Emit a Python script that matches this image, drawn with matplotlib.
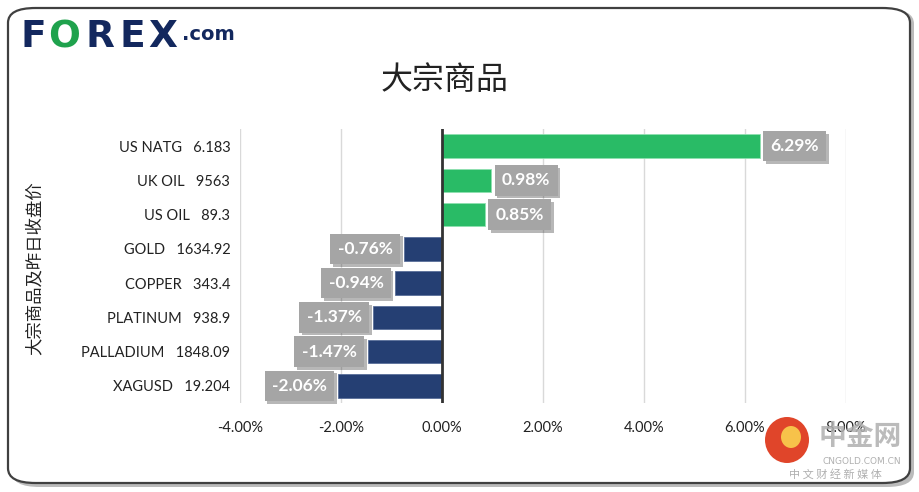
import matplotlib
matplotlib.use("Agg")
import matplotlib.pyplot as plt
import matplotlib.patheffects as pe
from matplotlib.patches import FancyBboxPatch, Ellipse

names = ["US NATG", "UK OIL", "US OIL", "GOLD", "COPPER", "PLATINUM", "PALLADIUM", "XAGUSD"]
prices = ["6.183", "9563", "89.3", "1634.92", "343.4", "938.9", "1848.09", "19.204"]
changes = [6.29, 0.98, 0.85, -0.76, -0.94, -1.37, -1.47, -2.06]
xticks = [-4, -2, 0, 2, 4, 6, 8]

title = "大宗商品"
ylabel = "大宗商品及昨日收盘价"

GREEN = "#29BB66"
NAVY = "#253F73"
LAB = "Lato"
CJK = ["Noto Sans CJK SC", "DejaVu Sans"]

fig = plt.figure(figsize=(9.2, 4.92), dpi=100)
W, H = 920, 492

# frame with shadow
shadow = FancyBboxPatch((12 / W, 5 / H), 902 / W, 478 / H,
                        boxstyle="round,pad=0,rounding_size=0.03",
                        transform=fig.transFigure, facecolor="#bbbbbb",
                        edgecolor="none", zorder=-3)
fig.patches.append(shadow)
frame = FancyBboxPatch((8 / W, 9 / H), 902 / W, 475 / H,
                       boxstyle="round,pad=0,rounding_size=0.03",
                       transform=fig.transFigure, facecolor="white",
                       edgecolor="#404040", linewidth=1.6, zorder=-2)
fig.patches.append(frame)

ax = fig.add_axes([240 / W, 1 - 403 / H, 606 / W, 274 / H])
ax.set_facecolor("none")
n = len(names)
ypos = list(range(n))
colors = [GREEN if c >= 0 else NAVY for c in changes]
ax.barh(ypos, changes, height=0.68, color=colors, zorder=3,
        edgecolor=["#8fe0b0" if c >= 0 else "#5a6f9a" for c in changes], linewidth=0.6)
ax.set_ylim(n - 0.5, -0.5)
ax.set_xlim(-4, 8)
ax.set_xticks(xticks)
ax.set_xticklabels([f"{v:.2f}%" for v in xticks], fontsize=10.5, family=LAB, color="#222222")
ax.set_yticks(ypos)
ax.set_yticklabels([f"{a}   {b}" for a, b in zip(names, prices)], fontsize=10.5,
                   family=LAB, color="#222222")
ax.tick_params(axis="both", length=0)
ax.tick_params(axis="y", pad=7)
ax.tick_params(axis="x", pad=13)
for s in ax.spines.values():
    s.set_visible(False)
ax.grid(axis="x", color="#d9d9d9", linewidth=1, zorder=0)
ax.axvline(0, color="#333333", linewidth=2, zorder=4)

for y, c in zip(ypos, changes):
    if c >= 0:
        off, ha = 7.5, "left"
    else:
        off, ha = -8, "right"
    t = ax.annotate(f"{c:.2f}%", xy=(c, y), xytext=(off, 0), textcoords="offset points",
                    ha=ha, va="center", fontsize=12.5, fontweight="bold", family=LAB,
                    color="white", zorder=6,
                    bbox=dict(boxstyle="square,pad=0.42", facecolor="#a5a5a5", edgecolor="none"))
    t.get_bbox_patch().set_path_effects([pe.SimplePatchShadow(offset=(2, -2), alpha=0.35), pe.Normal()])

fig.text(445 / W, 1 - 80 / H, title, ha="center", va="center", fontsize=23,
         family=CJK, color="#222222")
fig.text(35 / W, 1 - 268 / H, ylabel, ha="center", va="center", rotation=90,
         fontsize=12.5, family=CJK, color="#222222")

# FOREX logo
for ch, x0, col in [("F", 21, "#13285e"), ("O", 48, "#1fa24d"), ("R", 86, "#13285e"),
                    ("E", 120, "#13285e"), ("X", 148, "#13285e")]:
    fig.text(x0 / W, 1 - 37 / H, ch, fontsize=27, fontweight="heavy", family="DejaVu Sans",
             color=col, va="center", ha="left")
fig.text(182 / W, 1 - 35 / H, ".com", fontsize=14, fontweight="bold", family="DejaVu Sans",
         color="#13285e", va="center", ha="left")

# watermark
fig.patches.append(Ellipse((787 / W, 1 - 440 / H), 44 / W, 46 / H, transform=fig.transFigure,
                           facecolor="#e0452a", edgecolor="none", zorder=5))
fig.patches.append(Ellipse((791 / W, 1 - 437 / H), 20 / W, 22 / H, transform=fig.transFigure,
                           facecolor="#f7c24a", edgecolor="none", zorder=6))
fig.text(860 / W, 1 - 437 / H, "中金网", fontsize=20, fontweight="bold", family=CJK,
         color="#b0b0b0", ha="center", va="center", alpha=0.85, zorder=7)
fig.text(862 / W, 1 - 461 / H, "CNGOLD.COM.CN", fontsize=6.5, family="DejaVu Sans",
         color="#b0b0b0", ha="center", va="center")
fig.text(835 / W, 1 - 474 / H, "中 文 财 经 新 媒 体", fontsize=8, family=CJK,
         color="#b0b0b0", ha="center", va="center")

fig.savefig("out.png", dpi=100)
